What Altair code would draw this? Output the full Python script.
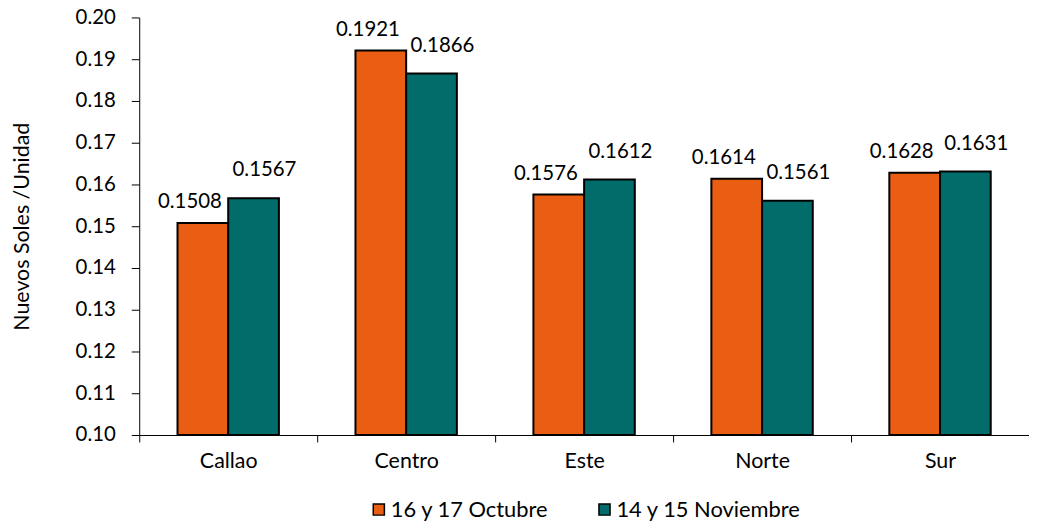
import altair as alt
import pandas as pd

regions = ["Callao", "Centro", "Este", "Norte", "Sur"]
series = ["16 y 17 Octubre", "14 y 15 Noviembre"]
octubre = [0.1508, 0.1921, 0.1576, 0.1614, 0.1628]
noviembre = [0.1567, 0.1866, 0.1612, 0.1561, 0.1631]
colors = ["#E95E13", "#016C69"]

rows = []
for r, a, b in zip(regions, octubre, noviembre):
    rows.append({"region": r, "serie": series[0], "valor": a, "label": f"{a:.4f}"})
    rows.append({"region": r, "serie": series[1], "valor": b, "label": f"{b:.4f}"})
df = pd.DataFrame(rows)

FONT = "Lato"

x = alt.X("region:N", sort=regions, title=None,
          scale=alt.Scale(paddingInner=0, paddingOuter=0),
          axis=alt.Axis(labelAngle=0, labelFontSize=21.5, labelColor="black",
                        labelPadding=9, tickSize=7, tickColor="black",
                        domainColor="black", tickBand="extent", labelFont=FONT))
xoff = alt.XOffset("serie:N", sort=series,
                   scale=alt.Scale(paddingInner=0, paddingOuter=0.755))
y = alt.Y("valor:Q", title="Nuevos Soles /Unidad",
          scale=alt.Scale(domain=[0.10, 0.20], zero=False, nice=False),
          axis=alt.Axis(values=[0.10, 0.11, 0.12, 0.13, 0.14, 0.15, 0.16, 0.17, 0.18, 0.19, 0.20],
                        format=".2f", grid=False, tickSize=8, tickColor="black",
                        domainColor="black", labelFontSize=20.5, labelColor="black",
                        labelPadding=16, titleFontSize=21.5, titleFontWeight="normal",
                        titleColor="black", titlePadding=42, labelFont=FONT, titleFont=FONT))

color = alt.Color("serie:N", sort=series,
                  scale=alt.Scale(domain=series, range=colors),
                  legend=alt.Legend(title=None, orient="none", legendX=230, legendY=484,
                                    direction="horizontal", symbolType="square",
                                    symbolSize=125, symbolStrokeColor="black",
                                    symbolStrokeWidth=1.5, labelFontSize=22,
                                    labelFont=FONT, labelColor="black", labelLimit=0,
                                    columnPadding=45, labelOffset=1, padding=0))

bars = alt.Chart(df).mark_bar(stroke="black", strokeWidth=2).encode(
    x=x, xOffset=xoff, y=y, y2=alt.datum(0.10), color=color
)

text_oct = alt.Chart(df).transform_filter(alt.datum.serie == series[0]).mark_text(
    dx=-13, dy=-11, fontSize=20.5, font=FONT, color="black", baseline="bottom"
).encode(x=x, xOffset=xoff, y=y, text="label:N")

text_nov = alt.Chart(df).transform_filter(alt.datum.serie == series[1]).mark_text(
    dx=11, dy=-18, fontSize=20.5, font=FONT, color="black", baseline="bottom"
).encode(x=x, xOffset=xoff, y=y, text="label:N")

chart = (bars + text_oct + text_nov).properties(
    width=895, height=420,
    autosize=alt.AutoSizeParams(type="none"),
    padding={"left": 132, "top": 8, "right": 0, "bottom": 88},
).configure_view(stroke=None).configure_axis(domainWidth=1)

chart.save("out.html", embed_options={"renderer": "svg", "actions": False})
